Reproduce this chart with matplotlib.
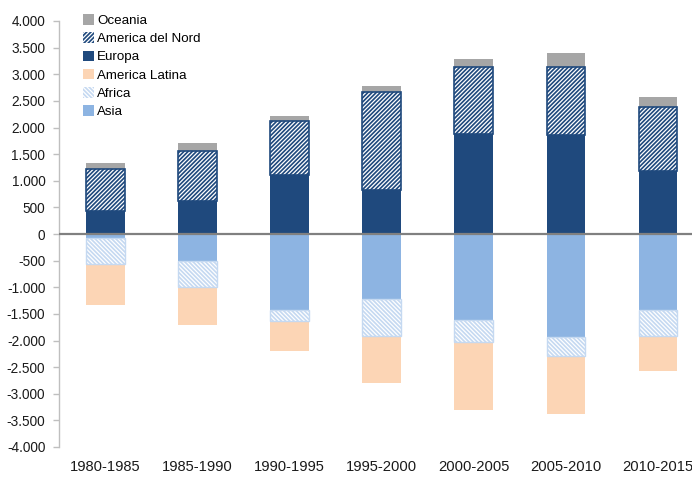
import matplotlib.pyplot as plt
from matplotlib.ticker import FuncFormatter

# -----------------------------
# Data (migrazioni nette, migliaia)
# -----------------------------
periods = [
    "1980-1985", "1985-1990", "1990-1995", "1995-2000",
    "2000-2005", "2005-2010", "2010-2015"
]

europa = [440, 625, 1100, 830, 1880, 1865, 1190]
america_nord = [780, 935, 1020, 1830, 1260, 1275, 1200]
oceania = [110, 140, 95, 120, 150, 250, 175]

asia = [-70, -510, -1430, -1230, -1610, -1940, -1430]
africa = [-500, -490, -200, -690, -420, -350, -490]
america_latina = [-760, -700, -570, -870, -1270, -1095, -660]

# -----------------------------
# Style
# -----------------------------
C_EUROPA = "#1F497D"
C_ASIA = "#8DB4E2"
C_LATINA = "#FCD5B5"
C_OCEANIA = "#A6A6A6"
C_AFRICA = "#C5D9F1"

plt.rcParams["font.family"] = ["Liberation Sans", "DejaVu Sans"]
plt.rcParams["hatch.linewidth"] = 0.9

fig = plt.figure(figsize=(6.92, 4.78), dpi=100)
ax = fig.add_axes([59.3 / 692, 31 / 478, 1 - 59.3 / 692, 426 / 478])

x = list(range(len(periods)))
width = 0.418

# -----------------------------
# Positive stack
# -----------------------------
b_eu = ax.bar(x, europa, width, color=C_EUROPA, linewidth=0, zorder=2)

na_base = europa
b_na = ax.bar(
    x, america_nord, width, bottom=na_base,
    color=C_EUROPA, edgecolor="white", hatch="////////",
    linewidth=0, zorder=2
)
ax.bar(
    x, america_nord, width, bottom=na_base,
    fill=False, edgecolor=C_EUROPA, linewidth=1.2, zorder=3
)

oc_base = [e + n for e, n in zip(europa, america_nord)]
b_oc = ax.bar(
    x, oceania, width, bottom=oc_base,
    color=C_OCEANIA, linewidth=0, zorder=2
)

# -----------------------------
# Negative stack
# -----------------------------
b_as = ax.bar(x, asia, width, color=C_ASIA, linewidth=0, zorder=2)

b_af = ax.bar(
    x, africa, width, bottom=asia,
    color=C_AFRICA, edgecolor="white", hatch="\\" * 8,
    linewidth=0, zorder=2
)
ax.bar(
    x, africa, width, bottom=asia,
    fill=False, edgecolor=C_AFRICA, linewidth=1.0, zorder=3
)

la_base = [a + f for a, f in zip(asia, africa)]
b_la = ax.bar(
    x, america_latina, width, bottom=la_base,
    color=C_LATINA, linewidth=0, zorder=2
)

ax.axhline(0, color="#808080", linewidth=1.6, zorder=4)

# -----------------------------
# Axes
# -----------------------------
ax.set_xlim(-0.5, 6.37)
ax.set_ylim(-4000, 4000)
ax.set_yticks(range(-4000, 4001, 500))
ax.yaxis.set_major_formatter(
    FuncFormatter(lambda v, _: f"{v:,.0f}".replace(",", "."))
)

for side in ["top", "right", "bottom"]:
    ax.spines[side].set_visible(False)
ax.spines["left"].set_color("#BFBFBF")
ax.spines["left"].set_linewidth(1.0)

ax.tick_params(
    axis="y", direction="out", length=4.3, width=1.0,
    color="#BFBFBF", pad=5.8, labelsize=9.8, labelcolor="#1A1A1A"
)
ax.tick_params(axis="x", length=0, pad=9.5)

ax.set_xticks(x)
ax.set_xticklabels(periods, fontsize=10.6, color="#1A1A1A")

# -----------------------------
# Legend
# -----------------------------
ax.legend(
    [b_oc, b_na, b_eu, b_la, b_af, b_as],
    ["Oceania", "America del Nord", "Europa",
     "America Latina", "Africa", "Asia"],
    loc="upper left",
    bbox_to_anchor=(83 / 692, 1 - 14 / 478),
    bbox_transform=fig.transFigure,
    frameon=False,
    fontsize=9.6,
    handlelength=0.85,
    handleheight=0.85,
    handletextpad=0.2,
    labelspacing=0.4,
    borderpad=0,
    borderaxespad=0
)

plt.savefig("out.png", dpi=100)
plt.close()
